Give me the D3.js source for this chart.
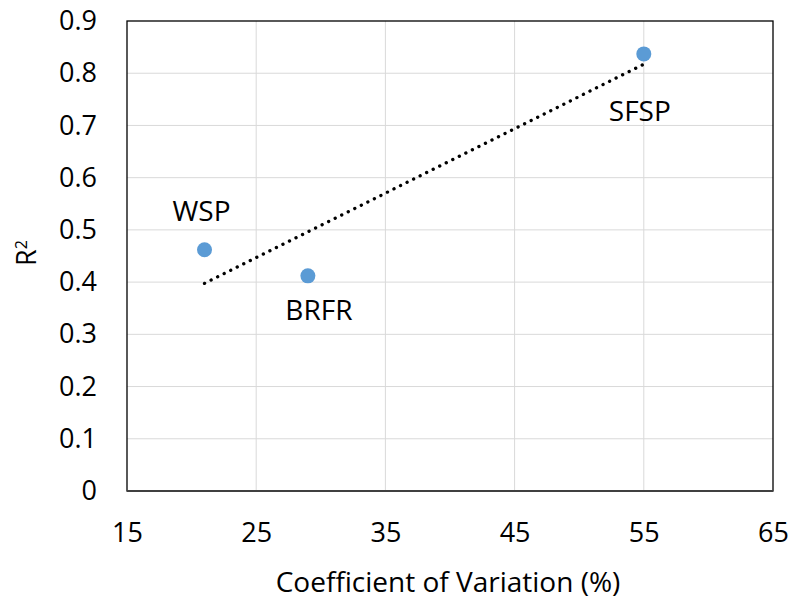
<!DOCTYPE html>
<html>
<head>
<meta charset="utf-8">
<script src="https://cdn.jsdelivr.net/npm/d3@7"></script>
<style>
  body { margin: 0; background: #fff; }
  text { font-family: "Open Sans", "Liberation Sans", sans-serif; fill: #000; }
</style>
</head>
<body>
<svg id="chart" width="793" height="598"></svg>
<script>
const sites = ["WSP", "BRFR", "SFSP"];
const cvValues = [21, 29, 55];
const r2Values = [0.462, 0.412, 0.837];
const xTicks = [15, 25, 35, 45, 55, 65];
const yTicks = [0, 0.1, 0.2, 0.3, 0.4, 0.5, 0.6, 0.7, 0.8, 0.9];
const labelOffsets = [[-3, -28.5], [11, 44.5], [-4, 67.5]];

const svg = d3.select("#chart");
const margin = { left: 127, top: 21, right: 20, bottom: 107 };
const W = 793, H = 598;
const x = d3.scaleLinear().domain([15, 65]).range([margin.left, W - margin.right]);
const y = d3.scaleLinear().domain([0, 0.9]).range([H - margin.bottom, margin.top]);

// gridlines
svg.append("g").selectAll("line.v").data(xTicks.slice(1, -1)).join("line")
  .attr("x1", d => x(d)).attr("x2", d => x(d))
  .attr("y1", y(0)).attr("y2", y(0.9))
  .attr("stroke", "#d9d9d9").attr("stroke-width", 1);
svg.append("g").selectAll("line.h").data(yTicks.slice(1, -1)).join("line")
  .attr("x1", x(15)).attr("x2", x(65))
  .attr("y1", d => y(d)).attr("y2", d => y(d))
  .attr("stroke", "#d9d9d9").attr("stroke-width", 1);

// frame
svg.append("rect").attr("x", x(15)).attr("y", y(0.9))
  .attr("width", x(65) - x(15)).attr("height", y(0) - y(0.9))
  .attr("fill", "none").attr("stroke", "#000").attr("stroke-width", 1.3);
svg.append("line").attr("x1", x(15)).attr("x2", x(65)).attr("y1", y(0)).attr("y2", y(0))
  .attr("stroke", "#404040").attr("stroke-width", 2);

// axes
const xAxis = d3.axisBottom(x).tickValues(xTicks).tickSize(0).tickPadding(32).tickFormat(d3.format("d"));
const gx = svg.append("g").attr("transform", `translate(0,${y(0)})`).call(xAxis);
gx.select(".domain").remove();
gx.selectAll("text").style("font-size", "27px");

const yAxis = d3.axisLeft(y).tickValues(yTicks).tickSize(0).tickPadding(30)
  .tickFormat(d => d === 0 ? "0" : d3.format(".1f")(d));
const gy = svg.append("g").attr("transform", `translate(${x(15)},0)`).call(yAxis);
gy.select(".domain").remove();
gy.selectAll("text").style("font-size", "27px");

// trendline (least squares)
const mx = d3.mean(cvValues), my = d3.mean(r2Values);
const slope = d3.sum(cvValues, (v, i) => (v - mx) * (r2Values[i] - my)) / d3.sum(cvValues, v => (v - mx) ** 2);
const icpt = my - slope * mx;
const x0 = d3.min(cvValues), x1 = d3.max(cvValues);
svg.append("line")
  .attr("x1", x(x0)).attr("y1", y(icpt + slope * x0))
  .attr("x2", x(x1)).attr("y2", y(icpt + slope * x1))
  .attr("stroke", "#000").attr("stroke-width", 3.3)
  .attr("stroke-dasharray", "0.1 7.2").attr("stroke-linecap", "round");

// points
svg.append("g").selectAll("circle").data(sites).join("circle")
  .attr("cx", (d, i) => x(cvValues[i])).attr("cy", (d, i) => y(r2Values[i]))
  .attr("r", 7.5).attr("fill", "#5b9bd5");

// labels
svg.append("g").selectAll("text").data(sites).join("text")
  .attr("x", (d, i) => x(cvValues[i]) + labelOffsets[i][0])
  .attr("y", (d, i) => y(r2Values[i]) + labelOffsets[i][1])
  .attr("text-anchor", "middle").style("font-size", "28px")
  .text(d => d);

// axis titles
svg.append("text").attr("x", 448).attr("y", 591.5).attr("text-anchor", "middle")
  .style("font-size", "28px").text("Coefficient of Variation (%)");
const yt = svg.append("text").attr("transform", "translate(36,253) rotate(-90)")
  .attr("text-anchor", "middle").style("font-size", "27px");
yt.append("tspan").text("R");
yt.append("tspan").attr("dy", -9).style("font-size", "16px").text("2");
</script>
</body>
</html>
